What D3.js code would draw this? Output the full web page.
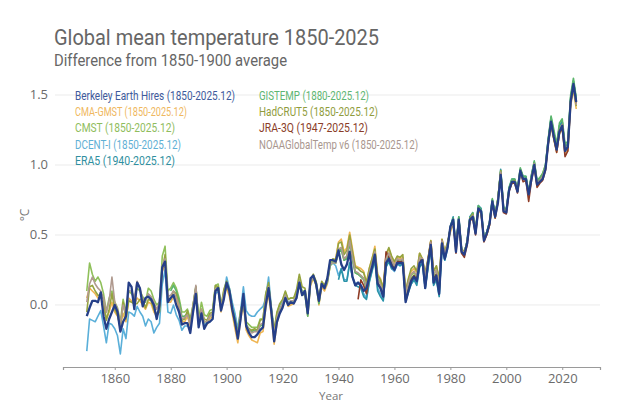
<!DOCTYPE html>
<html><head><meta charset="utf-8">
<script src="https://cdn.jsdelivr.net/npm/d3@7/dist/d3.min.js"></script>
<style>body{margin:0;background:#fff}svg{display:block;font-family:"Open Sans","Noto Sans",sans-serif}</style>
</head><body><svg id="c" width="617" height="409"></svg>
<script>
const seriesNames = ["Berkeley Earth Hires (1850-2025.12)","CMA-GMST (1850-2025.12)","CMST (1850-2025.12)","DCENT-I (1850-2025.12)","ERA5 (1940-2025.12)","GISTEMP (1880-2025.12)","HadCRUT5 (1850-2025.12)","JRA-3Q (1947-2025.12)","NOAAGlobalTemp v6 (1850-2025.12)"];
const startYears = [1850,1850,1850,1850,1940,1880,1850,1947,1850];
const yTicks = [0.0,0.5,1.0,1.5];
const xTicks = [1860,1880,1900,1920,1940,1960,1980,2000,2020];

const berkeley = [
-0.08,-0.02,0.03,0.03,0.02,0.09,-0.08,-0.17,-0.10,-0.05,
0.00,-0.05,-0.19,-0.12,-0.08,0.16,0.13,-0.03,0.16,0.12,
-0.01,0.05,0.06,0.04,0.00,-0.10,0.00,0.27,0.31,0.02,
0.05,0.07,0.00,-0.05,-0.14,-0.13,-0.13,-0.20,-0.05,0.08,
-0.16,-0.06,-0.17,-0.13,-0.12,-0.10,0.10,0.12,-0.04,0.04,
0.16,0.10,-0.03,-0.12,-0.24,-0.10,0.08,-0.15,-0.20,-0.23,
-0.23,-0.21,-0.18,-0.16,0.00,0.12,-0.05,-0.26,-0.12,-0.06,
-0.02,0.05,0.00,0.02,0.01,0.05,0.16,0.07,0.10,-0.06,
0.19,0.21,0.15,0.03,0.15,0.12,0.19,0.32,0.32,0.31,
0.39,0.29,0.25,0.29,0.38,0.20,0.14,0.16,0.14,0.10,
0.12,0.20,0.27,0.36,0.15,0.12,0.06,0.30,0.33,0.28,
0.25,0.30,0.30,0.30,0.02,0.10,0.17,0.20,0.17,0.30,
0.32,0.12,0.30,0.43,0.16,0.21,0.08,0.44,0.33,0.41,
0.56,0.61,0.38,0.61,0.38,0.36,0.44,0.61,0.63,0.51,
0.69,0.67,0.46,0.51,0.58,0.74,0.63,0.73,0.93,0.67,
0.66,0.82,0.88,0.88,0.81,0.96,0.90,0.90,0.79,0.90,
1.00,0.86,0.88,0.90,0.97,1.16,1.31,1.20,1.11,1.24,
1.28,1.10,1.13,1.45,1.58,1.45];

const cmaGmst = [
0.05,0.12,0.10,0.08,0.05,0.06,-0.02,-0.10,-0.05,0.02,
-0.05,-0.08,-0.15,-0.06,-0.12,0.05,0.03,0.00,0.05,0.03,
0.00,-0.03,0.02,0.01,-0.05,-0.08,-0.05,0.24,0.30,0.02,
0.02,0.06,0.04,-0.02,-0.12,-0.12,-0.08,-0.15,-0.04,0.10,
-0.14,-0.06,-0.14,-0.14,-0.10,-0.08,0.10,0.10,-0.05,0.08,
0.12,0.06,-0.06,-0.17,-0.27,-0.10,0.00,-0.18,-0.22,-0.25,
-0.26,-0.27,-0.20,-0.19,-0.02,0.08,-0.08,-0.28,-0.13,-0.05,
0.00,0.06,-0.01,0.00,0.01,0.05,0.15,0.07,0.08,-0.08,
0.14,0.19,0.14,0.00,0.13,0.10,0.15,0.28,0.32,0.33,
0.45,0.47,0.38,0.41,0.52,0.40,0.28,0.27,0.26,0.24,
0.16,0.26,0.33,0.42,0.22,0.19,0.12,0.36,0.40,0.34,
0.30,0.34,0.33,0.34,0.10,0.18,0.24,0.26,0.23,0.37,
0.33,0.22,0.33,0.46,0.24,0.28,0.18,0.47,0.38,0.44,
0.52,0.58,0.42,0.60,0.40,0.37,0.45,0.61,0.64,0.52,
0.68,0.65,0.47,0.50,0.57,0.73,0.62,0.76,0.95,0.68,
0.67,0.82,0.88,0.89,0.82,0.95,0.91,0.89,0.80,0.92,
1.00,0.85,0.89,0.91,0.97,1.15,1.28,1.18,1.09,1.22,
1.26,1.09,1.10,1.42,1.54,1.40];

const cmst = [
0.10,0.30,0.22,0.17,0.20,0.16,0.08,-0.05,0.05,0.10,
0.02,-0.02,-0.12,0.04,-0.05,0.10,0.08,0.05,0.12,0.10,
0.06,0.02,0.12,0.10,0.04,0.00,0.02,0.35,0.42,0.10,
0.12,0.16,0.12,0.05,-0.05,-0.05,-0.03,-0.10,0.00,0.12,
-0.10,0.02,-0.07,-0.08,-0.04,-0.03,0.14,0.15,0.00,0.10,
0.17,0.12,0.00,-0.08,-0.18,-0.04,0.04,-0.12,-0.14,-0.16,
-0.16,-0.16,-0.10,-0.10,0.08,0.15,-0.02,-0.18,-0.06,0.00,
0.03,0.09,0.04,0.05,0.05,0.09,0.18,0.10,0.10,-0.04,
0.16,0.20,0.16,0.04,0.16,0.13,0.17,0.29,0.31,0.30,
0.40,0.39,0.32,0.35,0.45,0.34,0.23,0.22,0.21,0.19,
0.13,0.23,0.30,0.39,0.19,0.16,0.10,0.33,0.37,0.31,
0.28,0.32,0.31,0.32,0.07,0.15,0.21,0.23,0.20,0.33,
0.32,0.19,0.31,0.44,0.21,0.25,0.14,0.45,0.36,0.43,
0.55,0.60,0.41,0.62,0.40,0.38,0.45,0.62,0.65,0.53,
0.70,0.67,0.48,0.52,0.59,0.75,0.64,0.76,0.95,0.69,
0.68,0.83,0.89,0.89,0.82,0.97,0.91,0.91,0.80,0.92,
1.02,0.88,0.91,0.94,1.00,1.18,1.33,1.23,1.14,1.28,
1.31,1.13,1.16,1.48,1.60,1.47];

const dcentI = [
-0.33,-0.10,-0.11,-0.12,-0.08,-0.04,-0.15,-0.27,-0.13,-0.14,
-0.17,-0.22,-0.35,-0.17,-0.24,-0.05,-0.06,-0.08,-0.01,-0.05,
-0.08,-0.15,-0.10,-0.12,-0.20,-0.16,-0.13,0.15,0.25,-0.05,
-0.06,0.00,-0.07,-0.11,-0.18,-0.15,-0.15,-0.17,-0.05,0.08,
-0.14,-0.06,-0.15,-0.12,-0.12,-0.10,0.08,0.10,-0.03,0.06,
0.20,0.12,0.02,-0.06,-0.17,-0.04,0.13,-0.04,-0.07,-0.08,
-0.08,-0.05,-0.03,-0.01,0.05,0.20,-0.02,-0.20,-0.08,-0.03,
0.02,0.07,0.02,0.03,0.03,0.06,0.16,0.08,0.10,-0.05,
0.18,0.21,0.16,0.03,0.16,0.13,0.17,0.29,0.30,0.28,
0.21,0.26,0.18,0.18,0.30,0.20,0.15,0.16,0.13,0.08,
0.05,0.17,0.25,0.33,0.12,0.08,0.03,0.28,0.32,0.26,
0.24,0.29,0.28,0.29,0.04,0.10,0.15,0.18,0.16,0.28,
0.30,0.12,0.27,0.41,0.15,0.20,0.07,0.42,0.32,0.40,
0.55,0.62,0.40,0.62,0.39,0.37,0.46,0.63,0.64,0.52,
0.70,0.68,0.47,0.52,0.59,0.75,0.64,0.75,0.95,0.68,
0.67,0.83,0.89,0.89,0.81,0.96,0.90,0.91,0.80,0.91,
1.01,0.87,0.89,0.91,0.98,1.17,1.32,1.21,1.12,1.25,
1.29,1.11,1.14,1.46,1.59,1.45];

const era5 = [
0.18,0.26,0.17,0.17,0.30,0.20,0.14,0.13,0.12,0.06,
0.04,0.16,0.24,0.32,0.10,0.06,0.03,0.27,0.31,0.26,
0.26,0.30,0.28,0.30,0.03,0.09,0.15,0.18,0.14,0.27,
0.30,0.12,0.26,0.40,0.14,0.18,0.06,0.41,0.32,0.42,
0.56,0.63,0.40,0.63,0.39,0.37,0.46,0.63,0.66,0.52,
0.71,0.69,0.47,0.52,0.59,0.75,0.65,0.75,0.97,0.70,
0.68,0.84,0.90,0.90,0.82,0.97,0.92,0.92,0.80,0.93,
1.02,0.87,0.90,0.93,0.99,1.18,1.34,1.23,1.13,1.28,
1.31,1.12,1.15,1.48,1.60,1.47];

const gistemp = [
0.10,0.14,0.10,0.03,-0.08,-0.08,-0.06,-0.12,-0.02,0.13,
-0.09,-0.04,-0.12,-0.12,-0.08,-0.06,0.12,0.13,-0.02,0.08,
0.14,0.09,-0.02,-0.10,-0.20,-0.07,0.02,-0.14,-0.17,-0.19,
-0.18,-0.19,-0.15,-0.14,0.04,0.12,-0.04,-0.20,-0.08,-0.04,
0.00,0.06,0.00,0.02,0.02,0.06,0.16,0.07,0.08,-0.08,
0.17,0.20,0.14,0.01,0.15,0.12,0.16,0.28,0.30,0.30,
0.37,0.40,0.32,0.33,0.44,0.32,0.23,0.22,0.20,0.18,
0.11,0.22,0.29,0.37,0.16,0.13,0.08,0.32,0.35,0.31,
0.27,0.32,0.31,0.32,0.06,0.12,0.19,0.21,0.18,0.32,
0.32,0.17,0.30,0.42,0.19,0.22,0.12,0.43,0.35,0.42,
0.56,0.62,0.40,0.63,0.39,0.37,0.45,0.62,0.66,0.54,
0.71,0.68,0.48,0.52,0.59,0.76,0.65,0.76,0.96,0.70,
0.68,0.84,0.90,0.90,0.83,0.98,0.92,0.92,0.81,0.93,
1.03,0.89,0.91,0.94,1.00,1.19,1.35,1.25,1.15,1.30,
1.33,1.15,1.17,1.50,1.62,1.48];

const hadcrut5 = [
-0.05,0.13,0.14,0.10,0.07,0.07,0.04,-0.11,-0.03,0.08,
-0.03,-0.07,-0.17,0.02,-0.10,0.03,0.02,0.01,0.01,0.04,
0.04,-0.02,0.04,0.03,-0.03,-0.07,-0.05,0.26,0.36,0.05,
0.04,0.10,0.08,0.00,-0.11,-0.10,-0.04,-0.13,0.00,0.13,
-0.11,-0.03,-0.10,-0.11,-0.06,-0.05,0.14,0.13,-0.02,0.11,
0.17,0.10,-0.03,-0.14,-0.21,-0.04,0.04,-0.15,-0.17,-0.18,
-0.17,-0.18,-0.11,-0.10,0.08,0.16,-0.05,-0.18,-0.05,0.01,
0.04,0.10,0.04,0.05,0.05,0.11,0.22,0.13,0.12,-0.02,
0.18,0.22,0.17,0.04,0.17,0.14,0.19,0.31,0.33,0.32,
0.44,0.45,0.36,0.39,0.50,0.38,0.27,0.26,0.24,0.23,
0.16,0.26,0.33,0.40,0.21,0.18,0.12,0.36,0.41,0.35,
0.31,0.35,0.34,0.36,0.10,0.19,0.26,0.28,0.24,0.37,
0.33,0.23,0.33,0.46,0.24,0.28,0.19,0.47,0.38,0.45,
0.54,0.59,0.42,0.61,0.40,0.38,0.45,0.62,0.65,0.53,
0.69,0.66,0.47,0.51,0.58,0.74,0.63,0.76,0.96,0.68,
0.67,0.82,0.88,0.89,0.81,0.96,0.90,0.90,0.79,0.91,
1.01,0.86,0.89,0.92,0.98,1.16,1.30,1.19,1.11,1.25,
1.29,1.11,1.14,1.45,1.55,1.42];

const jra3q = [
0.04,0.18,0.14,
0.08,0.20,0.28,0.36,0.16,0.12,0.06,0.38,0.34,0.29,
0.26,0.31,0.31,0.31,0.04,0.11,0.18,0.21,0.18,0.31,
0.33,0.14,0.32,0.45,0.18,0.22,0.10,0.46,0.34,0.42,
0.55,0.60,0.37,0.60,0.37,0.34,0.43,0.60,0.62,0.50,
0.68,0.66,0.45,0.50,0.57,0.73,0.62,0.73,0.94,0.66,
0.65,0.81,0.87,0.87,0.80,0.95,0.88,0.89,0.74,0.89,
0.99,0.84,0.87,0.89,0.96,1.15,1.30,1.19,1.09,1.23,
1.27,1.06,1.10,1.45,1.57,1.44];

const noaa = [
0.02,0.15,0.20,0.15,0.12,0.10,0.05,-0.05,0.03,0.20,
0.02,-0.03,-0.14,0.00,-0.06,0.10,0.10,0.05,0.17,0.12,
0.04,0.03,0.08,0.06,0.02,-0.03,0.02,0.28,0.33,0.06,
0.07,0.10,0.05,0.00,-0.10,-0.09,-0.07,-0.14,-0.01,0.14,
-0.12,-0.03,-0.12,-0.12,-0.08,-0.06,0.12,0.12,-0.02,0.08,
0.15,0.09,-0.03,-0.12,-0.21,-0.07,0.03,-0.14,-0.18,-0.20,
-0.19,-0.19,-0.14,-0.13,0.04,0.13,-0.04,-0.21,-0.09,-0.03,
0.01,0.07,0.01,0.03,0.03,0.07,0.17,0.08,0.09,-0.05,
0.16,0.20,0.15,0.03,0.15,0.12,0.17,0.29,0.30,0.30,
0.40,0.41,0.33,0.35,0.46,0.34,0.24,0.23,0.21,0.19,
0.13,0.23,0.30,0.38,0.18,0.15,0.09,0.33,0.37,0.32,
0.28,0.33,0.32,0.33,0.08,0.16,0.22,0.24,0.21,0.34,
0.33,0.20,0.32,0.45,0.22,0.25,0.15,0.46,0.37,0.43,
0.54,0.59,0.41,0.61,0.39,0.37,0.45,0.61,0.64,0.53,
0.69,0.66,0.47,0.51,0.58,0.74,0.63,0.75,0.95,0.68,
0.67,0.82,0.88,0.88,0.81,0.96,0.90,0.90,0.79,0.91,
1.01,0.87,0.89,0.92,0.98,1.16,1.30,1.20,1.11,1.25,
1.29,1.11,1.14,1.45,1.56,1.43];

const seriesValues = [berkeley,cmaGmst,cmst,dcentI,era5,gistemp,hadcrut5,jra3q,noaa];
const lineColors = ["#253f88","#efb552","#8fc05a","#5aafd9","#2a93a8","#5ab56b","#95a33e","#8e3b25","#b09a8f"];
const textColors = ["#3d5a9c","#efb860","#8fbd5d","#5fb0d5","#2f8fa0","#5eb672","#909c3c","#8a3d28","#a8968e"];
const titleFont = 'Roboto,"Open Sans",sans-serif';

const svg = d3.select("#c");
svg.append("rect").attr("width",617).attr("height",409).attr("fill","#fff");

const x = d3.scaleLinear().domain([1841.5,2033.5]).range([63,600]);
const y = d3.scaleLinear().domain([-0.443,1.6]).range([367,81]);

// gridlines
svg.append("g").selectAll("line").data(yTicks).join("line")
  .attr("x1",55).attr("x2",600).attr("y1",d=>y(d)).attr("y2",d=>y(d))
  .attr("stroke","#ebebeb").attr("stroke-width",1);
svg.append("g").selectAll("text").data(yTicks).join("text")
  .attr("x",48).attr("y",d=>y(d)+4.5).attr("text-anchor","end")
  .attr("font-size",13).attr("fill","#6b6b6b").text(d=>d.toFixed(1));

// x axis
const xAxis = d3.axisBottom(x).tickValues(xTicks).tickFormat(d3.format("d")).tickSize(3).tickPadding(4);
const gx = svg.append("g").attr("transform","translate(0,367)").call(xAxis);
gx.select(".domain").attr("stroke","#9a9a9a").attr("stroke-width",1.2);
gx.selectAll(".tick line").attr("stroke","#9a9a9a");
gx.selectAll("text").attr("font-size",13).attr("fill","#6b6b6b").attr("font-family",'"Open Sans","Noto Sans",sans-serif');

svg.append("text").attr("x",331).attr("y",399.5).attr("text-anchor","middle")
  .attr("font-size",11.5).attr("fill","#777").text("Year");
svg.append("text").attr("transform","translate(29,215) rotate(-90)").attr("text-anchor","middle")
  .attr("font-size",12).attr("fill","#777").text("°C");

// lines
const line = d3.line().x(d=>x(d[0])).y(d=>y(d[1]));
const order = [1,2,3,4,5,6,7,8,0];
order.forEach(i=>{
  const pts = seriesValues[i].map((v,k)=>[startYears[i]+k,v]);
  svg.append("path").datum(pts).attr("d",line).attr("fill","none")
    .attr("stroke",lineColors[i]).attr("stroke-width", i===0?2.3:1.6)
    .attr("stroke-linejoin","round");
});

// title
svg.append("text").attr("x",54).attr("y",45).attr("font-size",22).attr("fill","#666")
  .attr("font-family",titleFont)
  .attr("textLength",325).attr("lengthAdjust","spacingAndGlyphs")
  .text("Global mean temperature 1850-2025");
svg.append("text").attr("x",54).attr("y",66).attr("font-size",16).attr("fill","#666")
  .attr("font-family",titleFont)
  .attr("textLength",233).attr("lengthAdjust","spacingAndGlyphs")
  .text("Difference from 1850-1900 average");

// legend
const legWidths = [160,112,100,106,100,110,119,109,159];
seriesNames.forEach((n,i)=>{
  const col = i<5?0:1, row = i<5?i:i-5;
  svg.append("text").attr("x",col?259:75).attr("y",99.5+row*16.4)
    .attr("font-size",12).attr("fill",textColors[i]).attr("font-family",titleFont)
    .attr("textLength",legWidths[i]).attr("lengthAdjust","spacingAndGlyphs")
    .text(n);
});
</script></body></html>
